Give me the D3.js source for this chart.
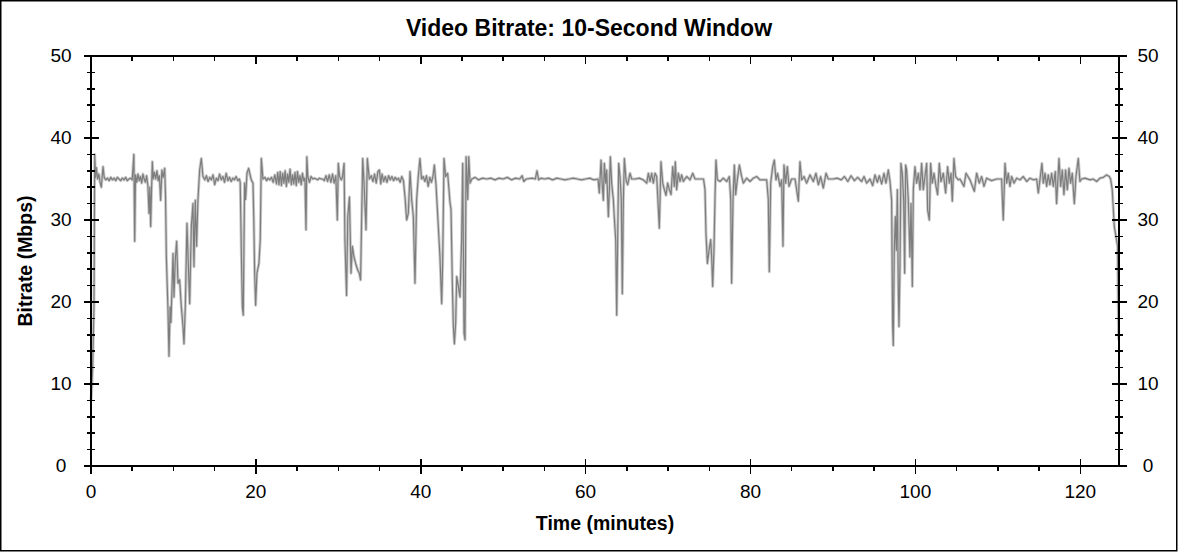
<!DOCTYPE html>
<html>
<head>
<meta charset="utf-8">
<script src="https://cdn.jsdelivr.net/npm/d3@7/dist/d3.min.js"></script>
<style>
  html, body { margin: 0; padding: 0; background: #fff; }
  svg { display: block; }
  text { font-family: "Liberation Sans", Arial, sans-serif; fill: #000; }
</style>
</head>
<body>
<svg id="chart" width="1178" height="552"></svg>
<script>
// ---------------- DATA ----------------
const chartTitle = "Video Bitrate: 10-Second Window";
const xLabel = "Time (minutes)";
const yLabel = "Bitrate (Mbps)";
const xTicks = [0, 20, 40, 60, 80, 100, 120];
const yTicks = [0, 10, 20, 30, 40, 50];
const xMaxMinutes = 124.7;

// [minute, Mbps] samples
const segment1 = [
  [0,8],[0.04,8.5],[0.2,12],[0.36,19.4],[0.45,38],[0.55,35.2],[0.65,36.4],[0.8,35.0],[0.95,35.6],[1.1,34.6],
  [1.25,34.0],[1.46,36.5],[1.6,35.2],[1.8,34.9],[2.0,35.1],[2.2,34.8],[2.4,35.2],[2.6,34.9],[2.8,35.1],[3.0,34.8],
  [3.2,35.2],[3.4,35.0],[3.6,34.8],[3.8,35.1],[4.0,34.9],[4.2,35.2],[4.4,34.8],[4.6,35.0],[4.8,35.1],[5.0,34.9],
  [5.2,38.0],[5.3,27.4],[5.4,35.5],[5.55,34.6],[5.7,35.6],[5.85,34.8],[6.0,35.3],[6.15,34.5],[6.3,35.6],[6.45,35.0],
  [6.6,34.6],[6.75,35.4],[6.9,34.2],[7.04,30.8],[7.14,34.0],[7.24,29.2],[7.34,33.5],[7.44,37.1],[7.55,35.0],[7.7,35.8],
  [7.85,35.0],[8.0,36.0],[8.15,34.8],[8.3,35.4],[8.45,32.4],[8.6,36.1],[8.75,35.2],[8.94,36.3],[9.04,33],[9.14,25.5],
  [9.34,19.0],[9.46,13.4],[9.6,19.4],[9.7,17.5],[9.95,25.9],[10.06,20.6],[10.22,25.1],[10.39,27.4],[10.55,22.3],[10.75,22.7],
  [10.96,19.4],[11.16,17.0],[11.28,14.9],[11.44,19.4],[11.64,29.6],[11.76,25.9],[11.97,19.8],[12.17,29.2],[12.37,32.0],[12.49,24.3],
  [12.65,32.4],[12.81,26.8],[12.97,32.4],[13.18,36.1],[13.38,37.5],[13.58,35.3],
  [13.8,34.9],[14.0,35.4],[14.2,34.7],[14.4,35.2],[14.6,34.9],[14.8,35.5],[15.0,34.3],[15.2,35.1],[15.4,34.8],[15.6,35.6],
  [15.8,34.9],[16.0,35.3],[16.2,34.6],[16.4,35.7],[16.6,34.8],[16.8,35.2],[17.0,34.7],[17.2,35.1],[17.4,34.9],[17.6,35.3],
  [17.8,34.8],[18.0,35.0],[18.1,34.6],
  [18.24,25.9],[18.36,19.4],[18.47,18.4],[18.63,34.5],[18.75,32.5],[18.92,35.7],[19.12,36.3],[19.44,34.9],[19.65,34.5],[19.75,30],
  [19.85,23.5],[19.97,19.6],[20.13,23.5],[20.37,24.7],[20.53,27.6],[20.66,37.5],[20.86,35.0]
];

const segment2 = [
  [21.1,35.2],[21.3,34.8],[21.5,35.1],[21.7,34.9],[21.9,35.2],[22.1,34.6],[22.3,35.5],[22.5,34.4],[22.65,35.8],[22.8,34.3],
  [22.95,35.9],[23.1,34.2],[23.25,35.7],[23.4,34.5],[23.55,36.0],[23.7,34.1],[23.85,35.6],[24.0,34.6],[24.15,36.2],[24.3,34.3],
  [24.45,35.5],[24.6,34.4],[24.75,35.8],[24.9,34.2],[25.05,35.9],[25.2,34.6],[25.35,35.4],[25.5,34.3],[25.65,35.7],[25.8,34.8],
  [25.95,35.1],[26.08,28.8],[26.18,37.7],[26.3,35.3],[26.5,34.6],[26.7,35.3],[26.9,35.0],[27.1,35.1],[27.3,35.0],[27.5,34.9],
  [27.7,35.1],[27.9,35.0],[28.1,35.0],[28.3,34.8],[28.5,35.4],[28.7,34.7],[28.9,35.5],[29.1,34.6],[29.3,35.6],[29.5,34.5],
  [29.7,35.4],[29.88,30.0],[30.0,36.9],[30.15,35.3],[30.35,34.9],[30.5,35.2],[30.7,36.9],[30.8,27.6],[31.0,20.8],[31.15,30.4],
  [31.35,32.8],[31.54,23.5],[31.7,26.8],[31.9,25.5],[32.1,24.7],[32.35,23.9],[32.55,23.5],[32.7,22.7],[32.82,29.6],[32.96,37.5],
  [33.12,34.5],[33.36,28.8],[33.52,37.5],[33.76,35.0],
  [34.0,35.4],[34.2,34.7],[34.4,35.6],[34.6,34.5],[34.8,35.9],[34.98,36.1],[35.15,34.4],[35.3,35.6],[35.5,34.7],[35.7,35.3],
  [35.9,34.6],[36.1,35.4],[36.3,34.9],[36.5,35.3],[36.7,34.8],[36.9,35.2],[37.1,34.9],[37.3,35.1],[37.5,34.6],[37.7,35.3],
  [37.9,34.8],[38.09,32.8],[38.29,30.0],[38.49,30.8],[38.7,35.9],[38.9,32.5],[39.1,30.4],[39.3,22.3],[39.5,32.5],[39.7,35.3],
  [39.9,37.5],[40.1,35.0],[40.3,35.3],[40.5,34.7],[40.7,35.4],[40.9,34.1],[41.1,35.2],[41.3,34.6],[41.5,35.4],[41.65,36.7],
  [41.85,34.3],[42.13,29.2],[42.33,25.5],[42.54,19.8],[42.66,24.9],[42.82,37.5],[43.02,35.3],[43.26,35.7],[43.55,32.1],[43.67,31.3],
  [43.83,22.3],[43.95,17.1],[44.08,14.9],[44.24,17.5],[44.36,23.1],[44.56,21.9],[44.76,20.6],[44.96,27.6],[45.09,36.9],[45.25,16.2],
  [45.37,15.4],[45.5,37.7],[45.7,32.5],[45.82,37.7],[45.98,34.5],[46.2,35.0]
];

const segment3 = [
  [46.6,35.2],[47.0,34.9],[47.5,35.1],[48,35.0],[48.5,35.1],[49,34.9],[49.5,35.1],[50,35.0],[50.5,35.2],[51,34.9],
  [51.5,35.1],[52,35.0],[52.3,35.4],[52.5,34.7],[52.8,35.0],[53.5,35.1],[53.9,35.0],[54.1,36.0],[54.3,34.9],[54.6,35.1],
  [55,35.0],[55.5,35.1],[56,34.9],[56.5,35.1],[57,35.0],[57.5,34.9],[58,35.0],[58.5,35.1],[59,35.0],[59.5,34.9],
  [60,35.0],[60.5,35.1],[61,34.9],[61.5,35.0],
  [61.66,33.3],[61.87,37.3],[62.03,34.1],[62.15,32.4],[62.27,36.9],[62.43,34.5],[62.55,36.1],[62.76,30.4],[62.88,33.7],[63.0,37.7],
  [63.16,34.5],[63.36,32.5],[63.52,29.6],[63.65,27.6],[63.77,18.4],[63.89,27.6],[64.01,36.9],[64.17,35.3],[64.33,32.5],[64.45,21.0],
  [64.58,32.5],[64.7,37.5],[64.9,34.9],[65.1,34.3],[65.38,35.7],[65.59,35.0],[66.0,35.0],[66.5,35.1],[67.0,34.9],
  [67.41,34.5],[67.61,35.7],[67.81,34.7],[68.01,35.7],[68.21,34.5],[68.42,35.7],[68.62,35.3],[68.94,29.0],[69.14,37.1],[69.35,34.5],
  [69.55,33.7],[69.75,33.0],[69.95,34.5],[70.16,33.7],[70.36,33.1],[70.56,36.5],[70.76,34.1],[70.88,37.1],[71.04,33.7],[71.25,35.7],
  [71.45,34.7],[71.65,35.5],[71.85,34.7],[72.26,35.3],[72.66,34.9],[72.99,35.7],[73.27,35.0],[73.6,35.0],[74.0,35.0],[74.3,35.0],
  [74.48,33.7],[74.6,28.4],[74.77,24.7],[74.97,26.3],[75.17,27.6],[75.29,25.5],[75.41,21.9],[75.57,26.3],[75.69,32.5],[75.81,37.3],
  [75.98,34.9],[76.3,34.7],[76.7,35.1],[77.11,34.7],[77.43,35.3],[77.6,32.5],[77.71,22.3],[77.88,32.5],[78.04,36.7],[78.2,33.1],
  [78.4,34.9],[78.65,36.7],[78.93,35.3],[79.13,34.5],[79.54,35.1],[79.94,34.7],[80.34,35.1],[80.75,35.3],[81.15,34.9],[81.96,34.9],
  [82.16,32.5],[82.28,23.7],[82.45,34.5],[82.69,36.5],[82.89,37.3],[83.09,34.9],[83.29,35.7],[83.58,34.1],[83.78,34.9],[83.94,26.8],
  [84.06,36.7],[84.27,34.5],[84.47,36.5],[84.67,34.1],[84.99,35.0],[85.4,35.0],[85.8,32.3],[86.0,37.1],[86.2,34.9],[86.49,35.3],
  [86.81,34.5],[87.22,35.5],[87.62,34.7],[87.94,35.7],[88.23,34.3],[88.51,35.3],[88.83,33.9],[89.16,35.7],[89.44,35.0],[90.0,35.0],
  [90.5,35.1],[91.0,34.9],[91.4,35.3],[91.8,34.7],[92.2,35.4],[92.6,34.8],[93.0,35.2]
];

const segment4 = [
  [93.48,34.7],[93.77,35.3],[94.09,34.5],[94.49,35.0],[94.82,34.2],[95.1,35.5],[95.38,34.6],[95.62,35.4],[95.91,34.4],[96.19,35.7],
  [96.43,34.5],[96.72,36.1],[96.92,34.7],[97.12,32.4],[97.24,17.3],[97.32,14.7],[97.44,26.3],[97.57,30.4],[97.69,26.3],[97.81,33.7],
  [97.93,21.5],[98.01,17.0],[98.13,24.3],[98.25,36.9],[98.41,35.7],[98.58,32.5],[98.7,23.5],[98.82,36.7],[98.94,36.1],[99.14,32.5],
  [99.34,25.5],[99.47,32.0],[99.63,21.9],[99.75,33.7],[99.95,36.5],[100.15,34.5],[100.36,35.7],[100.56,33.7],[100.76,36.9],[100.96,33.7],
  [101.16,35.3],[101.37,36.9],[101.49,31.2],[101.69,30.0],[101.85,36.9],[102.05,34.5],[102.26,35.7],[102.5,34.1],[102.7,33.1],[102.9,36.9],
  [103.1,34.7],[103.39,35.7],[103.67,33.3],[103.91,36.5],[104.12,34.5],[104.32,35.7],[104.48,32.3],[104.68,37.5],[104.88,35.3],[105.21,34.9],
  [105.41,35.0],[105.89,34.1],[106.14,35.7],[106.62,34.9],[107.15,33.5],[107.43,35.7],[107.75,34.5],[108.04,35.3],[108.32,34.1],[108.64,35.1],
  [109.25,34.8],[109.86,35.0],[110.46,35.0],[110.66,30.0],[110.87,36.9],[111.07,34.5],[111.27,35.7],[111.47,34.1],[111.68,35.3],[111.96,34.5],
  [112.28,35.1],[112.69,34.9],[113.09,35.3],[113.5,34.7],[113.9,35.1],[114.3,34.9],[114.71,35.0],[114.91,33.3],[115.11,34.9],[115.35,36.9],
  [115.52,34.5],[115.72,35.7],[115.92,34.1],[116.12,35.5],[116.32,34.3],[116.53,35.7],[116.73,34.1],[116.97,35.9],[117.13,32.0],[117.42,37.5],
  [117.62,34.1],[117.82,36.1],[118.02,33.1],[118.22,36.1],[118.43,33.7],[118.63,36.3],[118.83,34.5],[119.03,35.7],[119.28,32.0],[119.48,35.3],
  [119.76,37.5],[119.96,34.7],[120.17,35.0],[120.57,35.1],[121.18,34.9],[121.58,35.0],[121.99,34.7],[122.39,35.1],[122.79,35.2],[123.2,35.5],
  [123.52,35.3],[123.68,35.0],[123.88,33.7],[124.13,29.2],[124.33,28.0],[124.53,26.8],[124.65,15.4]
];

const samples = [].concat(segment1, segment2, segment3, segment4);

// ---------------- LAYOUT ----------------
const plot = { left: 91, right: 1119, top: 56, bottom: 466 };

const svg = d3.select("#chart");

// outer frame
svg.append("rect")
  .attr("x", 0.75).attr("y", 0.75)
  .attr("width", 1176).attr("height", 550)
  .attr("fill", "#fff").attr("stroke", "#000").attr("stroke-width", 1.5);

const x = d3.scaleLinear().domain([0, xMaxMinutes]).range([plot.left, plot.right]);
const y = d3.scaleLinear().domain([0, 50]).range([plot.bottom, plot.top]);

// data line (light halo + dark line)
const line = d3.line().x(d => x(d[0])).y(d => y(d[1]));
const g = svg.append("g");
g.append("path").datum(samples)
  .attr("d", line).attr("fill", "none")
  .attr("stroke", "#cccccc").attr("stroke-width", 3).attr("stroke-linejoin", "round");
g.append("path").datum(samples)
  .attr("d", line).attr("fill", "none")
  .attr("stroke", "#7d7d7d").attr("stroke-width", 1.2).attr("stroke-linejoin", "round");

// axes
const axisG = svg.append("g").attr("stroke", "#000").attr("stroke-width", 1.5).attr("shape-rendering", "crispEdges");
axisG.append("line").attr("x1", plot.left).attr("x2", plot.left).attr("y1", plot.top).attr("y2", plot.bottom);
axisG.append("line").attr("x1", plot.right).attr("x2", plot.right).attr("y1", plot.top).attr("y2", plot.bottom);
axisG.append("line").attr("x1", plot.left).attr("x2", plot.right).attr("y1", plot.top).attr("y2", plot.top);
axisG.append("line").attr("x1", plot.left).attr("x2", plot.right).attr("y1", plot.bottom).attr("y2", plot.bottom);

// y ticks (major every 10 crossing, minor every 2 crossing shorter)
const yMinor = d3.range(0, 51, 2).filter(v => v % 10 !== 0);
yTicks.forEach(v => {
  const yy = y(v);
  axisG.append("line").attr("x1", plot.left - 7.5).attr("x2", plot.left + 7.5).attr("y1", yy).attr("y2", yy);
  axisG.append("line").attr("x1", plot.right - 7.5).attr("x2", plot.right + 7.5).attr("y1", yy).attr("y2", yy);
});
yMinor.forEach(v => {
  const yy = y(v);
  axisG.append("line").attr("x1", plot.left - 4).attr("x2", plot.left + 4).attr("y1", yy).attr("y2", yy);
  axisG.append("line").attr("x1", plot.right - 4).attr("x2", plot.right + 4).attr("y1", yy).attr("y2", yy);
});

// x ticks: major every 20, minor every 5
const xMinor = d3.range(5, xMaxMinutes, 5).filter(v => v % 20 !== 0);
xTicks.forEach(v => {
  const xx = x(v);
  axisG.append("line").attr("x1", xx).attr("x2", xx).attr("y1", plot.bottom - 7.5).attr("y2", plot.bottom + 7.5);
  axisG.append("line").attr("x1", xx).attr("x2", xx).attr("y1", plot.top).attr("y2", plot.top + 7.5);
});
xMinor.forEach(v => {
  const xx = x(v);
  axisG.append("line").attr("x1", xx).attr("x2", xx).attr("y1", plot.bottom).attr("y2", plot.bottom + 4.5);
  axisG.append("line").attr("x1", xx).attr("x2", xx).attr("y1", plot.top).attr("y2", plot.top + 4.5);
});

// tick labels
const lab = svg.append("g").attr("font-size", "19px");
yTicks.forEach(v => {
  lab.append("text").attr("x", 61).attr("y", y(v) + 6).attr("text-anchor", "middle").text(v);
  lab.append("text").attr("x", 1148).attr("y", y(v) + 6).attr("text-anchor", "middle").text(v);
});
xTicks.forEach(v => {
  lab.append("text").attr("x", x(v)).attr("y", 498).attr("text-anchor", "middle").text(v);
});

// title and axis labels
svg.append("text").attr("x", 589).attr("y", 36).attr("text-anchor", "middle")
  .attr("font-size", "23px").attr("font-weight", "bold").text(chartTitle);
svg.append("text").attr("x", (plot.left + plot.right) / 2).attr("y", 530).attr("text-anchor", "middle")
  .attr("font-size", "19.5px").attr("font-weight", "bold").text(xLabel);
svg.append("text").attr("transform", `translate(32, ${(plot.top + plot.bottom) / 2}) rotate(-90)`)
  .attr("text-anchor", "middle").attr("font-size", "19.5px").attr("font-weight", "bold").text(yLabel);
</script>
</body>
</html>
